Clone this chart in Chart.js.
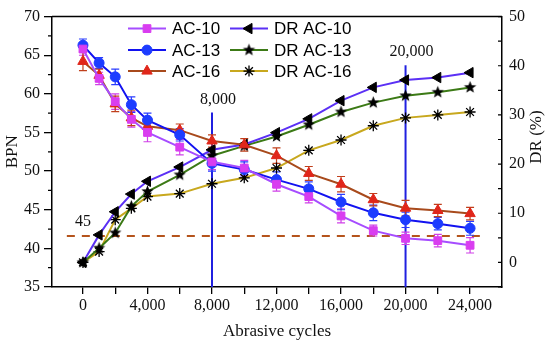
<!DOCTYPE html>
<html>
<head>
<meta charset="utf-8">
<script src="https://cdn.jsdelivr.net/npm/chart.js@4.4.1/dist/chart.umd.min.js"></script>
<style>
  html, body { margin: 0; padding: 0; background: #fff; }
  #wrap { width: 550px; height: 345px; }
</style>
</head>
<body>
<div id="wrap"><canvas id="bpnChart" width="550" height="345"></canvas></div>
<script>
// abrasive cycles (x)
const cycles = [0, 1000, 2000, 3000, 4000, 6000, 8000, 10000, 12000, 14000, 16000, 18000, 20000, 22000, 24000];

// BPN, left axis
const ac10 = [65.8, 62.0, 59.0, 56.7, 55.0, 53.1, 51.2, 50.4, 48.3, 46.7, 44.2, 42.3, 41.3, 41.0, 40.4];
const ac13 = [66.3, 64.0, 62.2, 58.6, 56.6, 54.7, 51.0, 50.2, 48.9, 47.7, 46.0, 44.6, 43.7, 43.2, 42.6];
const ac16 = [64.2, 62.4, 58.7, 56.9, 55.8, 55.3, 53.9, 53.4, 52.0, 49.7, 48.3, 46.3, 45.2, 44.9, 44.5];
const ac10Err = [0.8, 0.8, 1.0, 1.0, 1.2, 1.0, 1.0, 1.0, 0.9, 0.8, 0.9, 0.7, 0.8, 0.8, 1.0];
const ac13Err = [0.8, 0.7, 1.0, 1.0, 0.9, 0.8, 1.0, 1.0, 1.0, 0.9, 1.0, 1.0, 1.0, 0.8, 0.9];
const ac16Err = [1.2, 0.8, 1.0, 1.0, 0.9, 0.8, 0.8, 0.8, 1.0, 0.9, 1.0, 0.8, 1.0, 0.8, 0.8];

// DR (%), right axis
const drAc10 = [0, 5.6, 10.3, 13.9, 16.5, 19.4, 22.9, 24.0, 26.4, 29.2, 32.9, 35.6, 37.1, 37.6, 38.6];
const drAc13 = [0, 2.9, 6.0, 11.4, 14.4, 17.8, 21.7, 23.7, 25.6, 28.0, 30.6, 32.5, 33.9, 34.6, 35.6];
const drAc16 = [0, 2.2, 8.7, 11.0, 13.4, 14.0, 16.0, 17.2, 19.2, 22.8, 24.9, 27.8, 29.4, 30.0, 30.6];

// ticks
const xTicks = [0, 2000, 4000, 6000, 8000, 10000, 12000, 14000, 16000, 18000, 20000, 22000, 24000];
const yTicks = [35, 40, 45, 50, 55, 60, 65, 70];
const y1Ticks = [0, 10, 20, 30, 40, 50];

// annotations
const markCycles = [8000, 20000];
const markTops = [57.6, 63.7];
const markLabels = ['8,000', '20,000'];
const limitBpn = 41.6;
const limitLabel = '45';

const serif = "'Liberation Serif', 'Times New Roman', serif";
const sans = "'Liberation Sans', Arial, sans-serif";

// filled five point star for DR AC-13
function starImage(r) {
    const c = document.createElement('canvas');
    const s = Math.ceil(r * 2 + 2);
    c.width = s; c.height = s;
    const g = c.getContext('2d');
    g.fillStyle = '#000';
    g.beginPath();
    for (let i = 0; i < 10; i++) {
        const rr = i % 2 ? r * 0.42 : r;
        const ang = -Math.PI / 2 + i * Math.PI / 5;
        g.lineTo(s / 2 + rr * Math.cos(ang), s / 2 + rr * Math.sin(ang));
    }
    g.closePath();
    g.fill();
    return c;
}
const starPt = starImage(6.5);

const pts = (ys) => cycles.map((c, i) => ({x: c, y: ys[i]}));

const datasets = [
    {
        label: 'AC-10', data: pts(ac10), err: ac10Err, yAxisID: 'y',
        borderColor: '#a64dff', backgroundColor: '#d93df0', pointBorderColor: '#d93df0',
        pointStyle: 'rect', pointRadius: 5.5, errColor: '#d040e8'
    },
    {
        label: 'AC-13', data: pts(ac13), err: ac13Err, yAxisID: 'y',
        borderColor: '#1212f0', backgroundColor: '#1d3cff', pointBorderColor: '#1d3cff',
        pointStyle: 'circle', pointRadius: 5, errColor: '#2a3cff'
    },
    {
        label: 'AC-16', data: pts(ac16), err: ac16Err, yAxisID: 'y',
        borderColor: '#a84a1c', backgroundColor: '#e0261a', pointBorderColor: '#e0261a',
        pointStyle: 'triangle', pointRadius: 6, errColor: '#c0401c'
    },
    {
        label: 'DR AC-10', data: pts(drAc10), yAxisID: 'y1',
        borderColor: '#5b30f5', backgroundColor: '#000', pointBorderColor: '#000',
        pointStyle: 'triangle', pointRotation: -90, pointRadius: 6
    },
    {
        label: 'DR AC-13', data: pts(drAc13), yAxisID: 'y1',
        borderColor: '#3c7a16', backgroundColor: '#000', pointBorderColor: '#000',
        pointStyle: starPt, pointRadius: 6
    },
    {
        label: 'DR AC-16', data: pts(drAc16), yAxisID: 'y1',
        borderColor: '#c8a81e', backgroundColor: '#000', pointBorderColor: '#000',
        pointStyle: 'star', pointRadius: 5.5, pointBorderWidth: 1.3
    }
];
datasets.forEach(d => {
    d.borderWidth = 2;
    d.fill = false;
    d.tension = 0;
    d.pointHoverRadius = d.pointRadius;
    if (d.pointBorderWidth === undefined) d.pointBorderWidth = 1;
});

function drawMarker(ctx, ds, x, y) {
    ctx.fillStyle = ds.backgroundColor;
    ctx.strokeStyle = ds.pointBorderColor;
    ctx.lineWidth = ds.pointBorderWidth;
    Chart.helpers.drawPoint(ctx, {
        pointStyle: ds.pointStyle, radius: ds.pointRadius,
        rotation: ds.pointRotation || 0, borderWidth: ds.pointBorderWidth
    }, x, y);
}

const extras = {
    id: 'extras',
    beforeDatasetsDraw(chart) {
        const {ctx, chartArea: a, scales: {x, y}} = chart;
        ctx.save();
        // vertical marker lines
        ctx.strokeStyle = '#2020e0';
        ctx.lineWidth = 2;
        markCycles.forEach((v, i) => {
            const px = x.getPixelForValue(v);
            ctx.beginPath();
            ctx.moveTo(px, y.getPixelForValue(markTops[i]));
            ctx.lineTo(px, a.bottom);
            ctx.stroke();
        });
        // dashed limit line
        ctx.strokeStyle = '#b5541c';
        ctx.setLineDash([8, 7]);
        const ly = y.getPixelForValue(limitBpn);
        ctx.beginPath();
        ctx.moveTo(x.getPixelForValue(-1000), ly);
        ctx.lineTo(x.getPixelForValue(25000), ly);
        ctx.stroke();
        ctx.setLineDash([]);
        // error bars
        ctx.lineWidth = 1.2;
        chart.data.datasets.forEach((ds, di) => {
            if (!ds.err) return;
            const meta = chart.getDatasetMeta(di);
            ctx.strokeStyle = ds.errColor;
            meta.data.forEach((pt, i) => {
                const v = ds.data[i].y;
                const t = y.getPixelForValue(v + ds.err[i]);
                const b = y.getPixelForValue(v - ds.err[i]);
                ctx.beginPath();
                ctx.moveTo(pt.x, t); ctx.lineTo(pt.x, b);
                ctx.moveTo(pt.x - 4, t); ctx.lineTo(pt.x + 4, t);
                ctx.moveTo(pt.x - 4, b); ctx.lineTo(pt.x + 4, b);
                ctx.stroke();
            });
        });
        ctx.restore();
    },
    afterDraw(chart) {
        const {ctx, chartArea: a, scales: {x, y, y1}} = chart;
        ctx.save();
        // top frame
        ctx.strokeStyle = '#000';
        ctx.lineWidth = 1.5;
        ctx.beginPath();
        ctx.moveTo(a.left, a.top); ctx.lineTo(a.right, a.top);
        ctx.stroke();
        // minor ticks left
        ctx.lineWidth = 1.2;
        ctx.beginPath();
        for (let v = 37.5; v < 70; v += 5) {
            const py = y.getPixelForValue(v);
            ctx.moveTo(a.left - 4, py); ctx.lineTo(a.left, py);
        }
        // right ticks (inward)
        for (let v = -5; v <= 50; v += 5) {
            const py = y1.getPixelForValue(v);
            ctx.moveTo(a.right - 4, py); ctx.lineTo(a.right, py);
        }
        ctx.stroke();

        // annotation texts
        ctx.fillStyle = '#111';
        ctx.font = '16px ' + serif;
        ctx.textAlign = 'center';
        ctx.textBaseline = 'middle';
        markCycles.forEach((v, i) => {
            ctx.fillText(markLabels[i], x.getPixelForValue(v) + 6, y.getPixelForValue(markTops[i]) - 13);
        });
        ctx.fillText(limitLabel, x.getPixelForValue(0), y.getPixelForValue(limitBpn) - 14);

        // right axis title (reads bottom to top)
        ctx.save();
        ctx.translate(537, 137);
        ctx.rotate(-Math.PI / 2);
        ctx.font = '17px ' + serif;
        ctx.fillText('DR (%)', 0, 0);
        ctx.restore();

        // legend, two columns
        ctx.font = '17px ' + sans;
        ctx.textAlign = 'left';
        const cols = [a.left + 76, a.left + 178];
        const rows = [a.top + 12, a.top + 33.5, a.top + 54.5];
        chart.data.datasets.forEach((ds, i) => {
            const cx = cols[Math.floor(i / 3)];
            const cy = rows[i % 3];
            ctx.strokeStyle = ds.borderColor;
            ctx.lineWidth = 2;
            ctx.beginPath();
            ctx.moveTo(cx, cy); ctx.lineTo(cx + 38, cy);
            ctx.stroke();
            drawMarker(ctx, ds, cx + 19, cy);
            ctx.fillStyle = '#000';
            ctx.fillText(ds.label, cx + 44, cy + 1);
        });
        ctx.restore();
    }
};

const setTicks = (arr) => (scale) => { scale.ticks = arr.map(v => ({value: v})); };

new Chart(document.getElementById('bpnChart'), {
    type: 'line',
    data: {datasets: datasets},
    options: {
        responsive: false,
        animation: false,
        events: [],
        layout: {padding: {top: 10, left: 0, right: 0, bottom: 0}},
        plugins: {legend: {display: false}, tooltip: {enabled: false}},
        scales: {
            x: {
                type: 'linear', min: -1920, max: 25980,
                afterBuildTicks: setTicks(xTicks),
                afterFit: (s) => { s.height = 58; },
                grid: {display: true, drawOnChartArea: false, tickLength: 7, color: '#000', lineWidth: 1.3},
                border: {display: true, color: '#000', width: 1.5},
                ticks: {
                    color: '#111', font: {family: serif, size: 16}, padding: 2,
                    autoSkip: false, maxRotation: 0,
                    callback: (v) => v % 4000 === 0 ? v.toLocaleString('en-US') : ''
                },
                title: {display: true, text: 'Abrasive cycles', color: '#111',
                        font: {family: serif, size: 17}, padding: {bottom: 3}}
            },
            y: {
                position: 'left', min: 35, max: 70,
                afterBuildTicks: setTicks(yTicks),
                afterFit: (s) => { s.width = 52; },
                grid: {display: true, drawOnChartArea: false, tickLength: 8, color: '#000', lineWidth: 1.3},
                border: {display: true, color: '#000', width: 1.5},
                ticks: {color: '#111', font: {family: serif, size: 16}, padding: 4},
                title: {display: true, text: 'BPN', color: '#111',
                        font: {family: serif, size: 17}, padding: {top: 2}}
            },
            y1: {
                position: 'right', min: -5, max: 50,
                afterBuildTicks: setTicks(y1Ticks),
                afterFit: (s) => { s.width = 48; },
                grid: {display: false, drawTicks: false},
                border: {display: true, color: '#000', width: 1.5},
                ticks: {color: '#111', font: {family: serif, size: 16}, padding: 7}
            }
        }
    },
    plugins: [extras]
});
</script>
</body>
</html>
